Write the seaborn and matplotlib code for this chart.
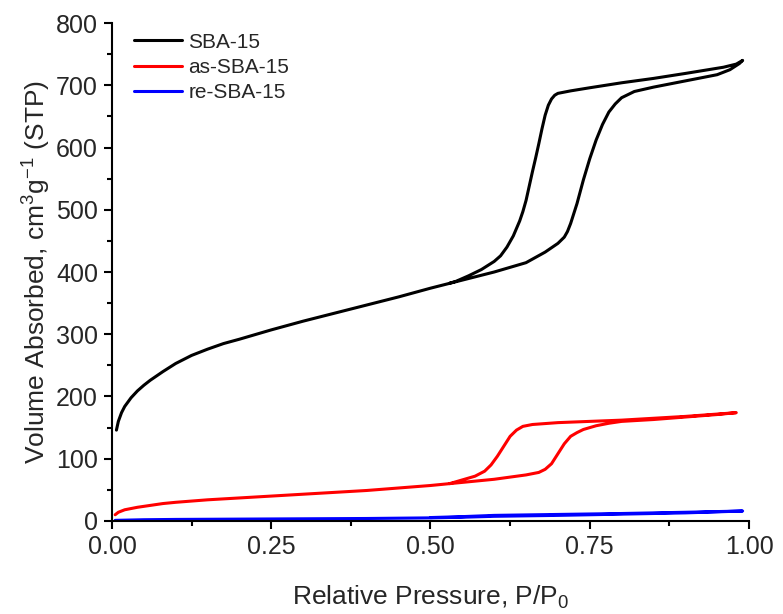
import numpy as np
import pandas as pd
import seaborn as sns
import matplotlib
matplotlib.use("Agg")
import matplotlib.pyplot as plt
from matplotlib.ticker import MultipleLocator

# N2 sorption isotherms (adsorption then desorption branch)
sba_ads_x = [0.007, 0.01, 0.015, 0.02, 0.03, 0.04, 0.05, 0.06, 0.08, 0.10, 0.125, 0.15, 0.175,
             0.20, 0.25, 0.30, 0.35, 0.40, 0.45, 0.50, 0.55, 0.60, 0.65, 0.68, 0.70, 0.71, 0.715,
             0.72, 0.73, 0.74, 0.75, 0.76, 0.77, 0.78, 0.79, 0.80, 0.82, 0.85, 0.90, 0.95, 0.97,
             0.985, 0.99]
sba_ads_y = [146, 160, 174, 184, 198, 209, 218, 226, 240, 253, 266, 276, 285,
             292, 307, 321, 334, 347, 360, 374, 387, 400, 415, 432, 446, 456, 465,
             478, 510, 548, 582, 612, 637, 657, 670, 680, 690, 697, 707, 717, 725,
             735, 740]
sba_des_x = [0.99, 0.98, 0.96, 0.93, 0.90, 0.85, 0.80, 0.75, 0.72, 0.70, 0.695, 0.69, 0.685,
             0.68, 0.675, 0.67, 0.665, 0.66, 0.655, 0.65, 0.645, 0.64, 0.63, 0.62, 0.61, 0.60,
             0.58, 0.56, 0.54, 0.53]
sba_des_y = [740, 734, 729, 724, 719, 711, 704, 696, 691, 687, 684, 678, 668,
             652, 630, 606, 583, 561, 538, 515, 497, 482, 458, 440, 426, 417,
             404, 394, 385, 382]

as_ads_x = [0.005, 0.01, 0.02, 0.04, 0.06, 0.08, 0.10, 0.15, 0.20, 0.25, 0.30, 0.35, 0.40,
            0.45, 0.50, 0.55, 0.60, 0.65, 0.67, 0.68, 0.69, 0.70, 0.71, 0.72, 0.73, 0.74,
            0.76, 0.78, 0.80, 0.85, 0.90, 0.95, 0.98]
as_ads_y = [10, 14, 18, 22, 25, 28, 30, 34, 37, 40, 43, 46, 49,
            53, 57, 62, 67, 74, 78, 83, 92, 108, 124, 136, 142, 147,
            153, 157, 160, 163, 167, 171, 174]
as_des_x = [0.98, 0.90, 0.80, 0.70, 0.66, 0.645, 0.635, 0.625, 0.615, 0.605, 0.595, 0.585,
            0.57, 0.55, 0.53]
as_des_y = [174, 168, 162, 158, 155, 152, 146, 136, 120, 104, 90, 80,
            72, 66, 60]

re_ads_x = [0.005, 0.05, 0.10, 0.20, 0.30, 0.40, 0.50, 0.55, 0.60, 0.70, 0.80, 0.90, 0.99]
re_ads_y = [1, 2, 2.5, 3, 3.5, 4, 5, 6, 7.5, 9, 11, 13, 16]
re_des_x = [0.99, 0.90, 0.80, 0.70, 0.60, 0.55, 0.50]
re_des_y = [16, 14, 12, 10.5, 9, 7, 5.5]

samples = ["SBA-15", "as-SBA-15", "re-SBA-15"]
colors = ["black", "red", "blue"]

frames = []
for name, xs, ys in [("SBA-15", sba_ads_x + sba_des_x, sba_ads_y + sba_des_y),
                     ("as-SBA-15", as_ads_x + as_des_x, as_ads_y + as_des_y),
                     ("re-SBA-15", re_ads_x + re_des_x, re_ads_y + re_des_y)]:
    frames.append(pd.DataFrame({"p": xs, "v": ys, "sample": name}))
df = pd.concat(frames, ignore_index=True)

sns.set_style("ticks")
plt.rcParams["font.family"] = ["Liberation Sans", "DejaVu Sans"]
plt.rcParams["mathtext.fontset"] = "custom"
plt.rcParams["mathtext.rm"] = "Liberation Sans"
plt.rcParams["mathtext.it"] = "Liberation Sans"

fig = plt.figure(figsize=(7.83, 6.14), dpi=100)
ax = fig.add_axes([0.143, 0.1515, 0.8136, 0.811])

sns.lineplot(data=df, x="p", y="v", hue="sample", hue_order=samples, palette=colors,
             sort=False, estimator=None, units="sample", linewidth=2.2, ax=ax)

ax.set_xlim(0, 1.0)
ax.set_ylim(0, 800)
ax.xaxis.set_major_locator(MultipleLocator(0.25))
ax.xaxis.set_minor_locator(MultipleLocator(0.125))
ax.yaxis.set_major_locator(MultipleLocator(100))
ax.yaxis.set_minor_locator(MultipleLocator(50))
ax.set_xticklabels([f"{t:.2f}" for t in ax.get_xticks()])
ax.tick_params(which="major", direction="out", length=6, width=1.5, labelsize=18,
               color="black", pad=4)
ax.tick_params(which="minor", direction="out", length=3.5, width=1.5, color="black")
for s in ["left", "bottom"]:
    ax.spines[s].set_linewidth(1.5)
    ax.spines[s].set_color("black")
sns.despine(ax=ax)

ax.set_xlabel("Relative Pressure, P/P$_0$", fontsize=19, labelpad=18)
ax.set_ylabel("Volume Absorbed, cm$^3$g$^{-1}$ (STP)", fontsize=19, labelpad=2)

ax.legend(frameon=False, loc="upper left", bbox_to_anchor=(0.012, 1.01), fontsize=15,
          handlelength=2.3, handletextpad=0.3, labelspacing=0.3, borderaxespad=0.3)

plt.savefig("out.png", dpi=100)
